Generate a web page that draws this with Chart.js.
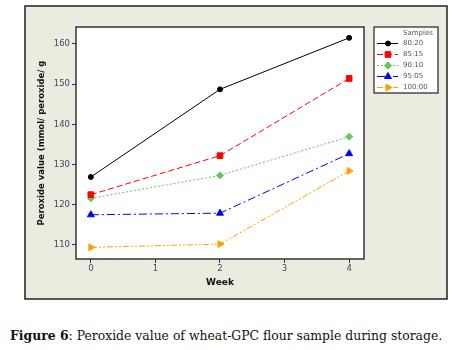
<!DOCTYPE html>
<html>
<head>
<meta charset="utf-8">
<script src="https://cdn.jsdelivr.net/npm/chart.js@4"></script>
<style>
  body { margin: 0; background: #fff; }
  #wrap { position: relative; width: 463px; height: 300px; }
  #caption {
    position: absolute; left: 10px; top: 328px; width: 450px;
    font-family: "DejaVu Serif", "Liberation Serif", serif; font-size: 12.4px; color: #111;
    white-space: nowrap;
  }
</style>
</head>
<body>
<div id="wrap"><canvas id="c" width="463" height="300"></canvas></div>
<div id="caption"><b>Figure 6</b>: Peroxide value of wheat-GPC flour sample during storage.</div>
<script>
// data
const weeks = [0, 2, 4];
const sampleNames = ['80:20', '85:15', '90:10', '95:05', '100:00'];
const s8020 = [126.9, 148.7, 161.5];
const s8515 = [122.5, 132.2, 151.4];
const s9010 = [121.6, 127.3, 136.9];
const s9505 = [117.5, 117.9, 132.7];
const s10000 = [109.4, 110.2, 128.4];
const yTicks = [110, 120, 130, 140, 150, 160];
const xTicks = [0, 1, 2, 3, 4];

const seriesValues = [s8020, s8515, s9010, s9505, s10000];
const colors = ['#000000', '#ff0000', '#5fc85f', '#0000ff', '#ffa000'];
const dashes = [[], [6, 3], [2, 2], [8, 3, 2, 3], [6, 2, 2, 2, 2, 2]];
const markers = ['circle', 'rect', 'rectRot', 'triangle', 'triangle'];
const markerRot = [0, 0, 0, 0, 90];
const markerSize = [2.5, 4, 3.5, 4, 4];

const datasets = sampleNames.map((name, i) => ({
  label: name,
  data: weeks.map((w, j) => ({ x: w, y: seriesValues[i][j] })),
  borderColor: colors[i],
  backgroundColor: colors[i],
  borderWidth: 1,
  borderDash: dashes[i],
  pointStyle: markers[i],
  rotation: markerRot[i],
  pointRadius: markerSize[i],
  pointBorderWidth: 1,
  tension: 0
}));

const panel = {
  id: 'panel',
  beforeDraw(chart) {
    const ctx = chart.ctx;
    const a = chart.chartArea;
    ctx.save();
    ctx.fillStyle = '#ecebdf';
    ctx.fillRect(25, 6, 422, 293);
    ctx.strokeStyle = '#222';
    ctx.lineWidth = 1.5;
    ctx.strokeRect(25, 6, 422, 293);
    ctx.fillStyle = '#fff';
    ctx.fillRect(a.left, a.top, a.right - a.left, a.bottom - a.top);
    ctx.restore();
  },
  afterDraw(chart) {
    const ctx = chart.ctx;
    const a = chart.chartArea;
    ctx.save();
    ctx.strokeStyle = '#333';
    ctx.lineWidth = 1.5;
    ctx.strokeRect(a.left, a.top, a.right - a.left, a.bottom - a.top);

    // legend box
    const lx = 374, ly = 27, lw = 64, lh = 66;
    ctx.fillStyle = '#fff';
    ctx.fillRect(lx, ly, lw, lh);
    ctx.strokeStyle = '#222';
    ctx.lineWidth = 1.2;
    ctx.strokeRect(lx, ly, lw, lh);
    ctx.font = '7px "DejaVu Sans"';
    ctx.fillStyle = '#556';
    ctx.textBaseline = 'middle';
    ctx.fillText('Samples', 403, 33.5);
    chart.data.datasets.forEach((ds, i) => {
      const y = 43.5 + i * 11;
      ctx.strokeStyle = ds.borderColor;
      ctx.lineWidth = 1;
      ctx.setLineDash(ds.borderDash);
      ctx.beginPath();
      ctx.moveTo(377, y);
      ctx.lineTo(398, y);
      ctx.stroke();
      ctx.setLineDash([]);
      ctx.fillStyle = ds.borderColor;
      Chart.helpers.drawPoint(ctx, {
        pointStyle: ds.pointStyle, rotation: ds.rotation,
        radius: ds.pointRadius, borderWidth: 1
      }, 388, y);
      ctx.fillStyle = '#556';
      ctx.fillText(ds.label, 403, y);
    });
    ctx.restore();
  }
};

new Chart(document.getElementById('c'), {
  type: 'line',
  data: { datasets },
  options: {
    responsive: false,
    animation: false,
    layout: { padding: { left: 37, right: 99, top: 27, bottom: 12 } },
    plugins: { legend: { display: false }, tooltip: { enabled: false } },
    scales: {
      x: {
        type: 'linear', min: -0.23, max: 4.23,
        afterFit: s => { s.height = 29; },
        afterBuildTicks: s => { s.ticks = xTicks.map(v => ({ value: v })); },
        grid: { drawOnChartArea: false, color: '#333', tickLength: 4 },
        border: { display: false },
        ticks: { color: '#444466', font: { family: 'DejaVu Sans', size: 8.5 }, padding: 1, maxRotation: 0 },
        title: { display: true, text: 'Week', color: '#111', font: { family: 'DejaVu Sans', size: 9, weight: 'bold' }, padding: { top: 2, bottom: 0 } }
      },
      y: {
        min: 106.5, max: 164.2,
        afterFit: s => { s.width = 39; },
        afterBuildTicks: s => { s.ticks = yTicks.map(v => ({ value: v })); },
        grid: { drawOnChartArea: false, color: '#333', tickLength: 4 },
        border: { display: false },
        ticks: { color: '#444466', font: { family: 'DejaVu Sans', size: 8.5 }, padding: 2 },
        title: { display: true, text: 'Peroxide value (mmol/ peroxide/ g', color: '#111', font: { family: 'DejaVu Sans', size: 8.5, weight: 'bold' }, padding: { top: 0, bottom: 2 } }
      }
    }
  },
  plugins: [panel]
});
</script>
</body>
</html>
